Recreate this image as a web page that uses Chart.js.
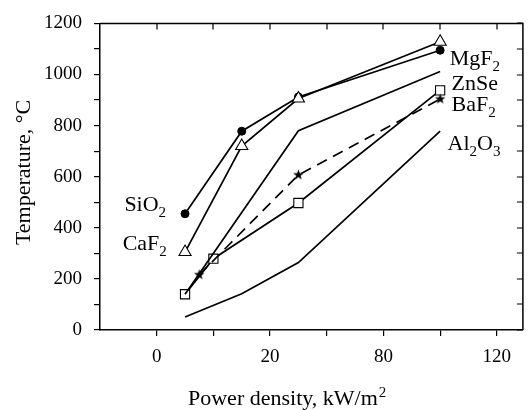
<!DOCTYPE html>
<html>
<head>
<meta charset="utf-8">
<script src="https://cdn.jsdelivr.net/npm/chart.js@4"></script>
<style>
  html, body { margin: 0; padding: 0; background: #fff; }
  #wrap { width: 531px; height: 410px; }
</style>
</head>
<body>
<div id="wrap"><canvas id="chart" width="531" height="410"></canvas></div>
<script>
// x positions are in axis units; the axis itself is labelled 0, 20, 80, 120
const xTickValues = [0, 10, 20, 30, 40, 50, 60];
const xTickLabels = { 0: '0', 20: '20', 40: '80', 60: '120' };
const yTickValues = [0, 100, 200, 300, 400, 500, 600, 700, 800, 900, 1000, 1100, 1200];

const xMain = [5, 15, 25, 50];
const sio2 = [455, 778, 912, 1095];
const caf2 = [305, 720, 906, 1128];
const al2o3 = [51, 142, 264, 778];

const xSquare = [5, 10, 25, 50];
const squareVals = [140, 279, 497, 938];

const xZnse = [5, 25, 50];
const znse = [140, 780, 1012];

const xStar = [7.5, 25, 50];
const starVals = [216, 607, 904];

// in-plot labels, anchored in data units
const plotLabels = [
    { text: 'SiO2', x: -5.7, y: 465 },
    { text: 'CaF2', x: -6.0, y: 312 },
    { text: 'MgF2', x: 51.7, y: 1036 },
    { text: 'ZnSe', x: 52.0, y: 940 },
    { text: 'BaF2', x: 52.0, y: 857 },
    { text: 'Al2O3', x: 51.3, y: 705 }
];

const FONT = '"Liberation Serif", "Times New Roman", serif';

function toPoints(xs, ys) {
    return xs.map((x, i) => ({ x: x, y: ys[i] }));
}

function makeStar(r) {
    const c = document.createElement('canvas');
    const s = Math.ceil(r * 2) + 2;
    c.width = s; c.height = s;
    const g = c.getContext('2d');
    g.fillStyle = '#000';
    g.beginPath();
    for (let i = 0; i < 10; i++) {
        const rad = i % 2 === 0 ? r : r * 0.42;
        const a = -Math.PI / 2 + i * Math.PI / 5;
        const px = s / 2 + rad * Math.cos(a);
        const py = s / 2 + rad * Math.sin(a);
        if (i === 0) g.moveTo(px, py); else g.lineTo(px, py);
    }
    g.closePath();
    g.fill();
    return c;
}

// digits become subscripts (SiO2, Al2O3 ...)
function drawChem(ctx, str, x, y, size) {
    let cx = x;
    str.match(/\d+|\D+/g).forEach(p => {
        const sub = /\d/.test(p);
        ctx.font = (sub ? Math.round(size * 0.7) : size) + 'px ' + FONT;
        ctx.fillText(p, cx, sub ? y + 6 : y);
        cx += ctx.measureText(p).width;
    });
}

const framePlugin = {
    id: 'frame',
    afterDraw(chart) {
        const ctx = chart.ctx;
        const a = chart.chartArea;
        const xs = chart.scales.x;
        const ys = chart.scales.y;
        ctx.save();
        ctx.strokeStyle = '#000';
        ctx.lineWidth = 1.5;
        // top and right frame with inward ticks
        ctx.beginPath();
        ctx.moveTo(a.left, a.top);
        ctx.lineTo(a.right, a.top);
        ctx.lineTo(a.right, a.bottom);
        ctx.stroke();
        ctx.lineWidth = 1.2;
        ctx.beginPath();
        xTickValues.forEach(v => {
            const px = Math.round(xs.getPixelForValue(v));
            ctx.moveTo(px, a.top);
            ctx.lineTo(px, a.top + 6);
        });
        yTickValues.forEach(v => {
            const py = Math.round(ys.getPixelForValue(v));
            ctx.moveTo(a.right, py);
            ctx.lineTo(a.right - 6, py);
        });
        ctx.stroke();

        // material labels
        ctx.fillStyle = '#000';
        ctx.textBaseline = 'alphabetic';
        ctx.textAlign = 'left';
        plotLabels.forEach(l => {
            drawChem(ctx, l.text, xs.getPixelForValue(l.x), ys.getPixelForValue(l.y), 22);
        });

        // x title with superscript
        const xt = 'Power density, kW/m';
        const tx = a.left + 88;
        const ty = chart.height - 5;
        ctx.font = '22px ' + FONT;
        ctx.fillText(xt, tx, ty);
        const w = ctx.measureText(xt).width;
        ctx.font = '15px ' + FONT;
        ctx.fillText('2', tx + w + 1, ty - 8);

        // y title
        ctx.font = '22px ' + FONT;
        ctx.translate(24, a.top + 149);
        ctx.rotate(-Math.PI / 2);
        ctx.textAlign = 'center';
        ctx.textBaseline = 'middle';
        ctx.fillText('Temperature, \u00B0C', 0, 0);
        ctx.restore();
    }
};

const lineBase = {
    borderColor: '#000',
    borderWidth: 1.7,
    tension: 0,
    fill: false,
    pointBorderColor: '#000'
};

new Chart(document.getElementById('chart').getContext('2d'), {
    type: 'line',
    data: {
        datasets: [
            Object.assign({}, lineBase, {
                label: 'Al2O3', data: toPoints(xMain, al2o3), pointRadius: 0
            }),
            Object.assign({}, lineBase, {
                label: 'ZnSe', data: toPoints(xZnse, znse), pointRadius: 0
            }),
            Object.assign({}, lineBase, {
                label: 'BaF2', data: toPoints(xStar, starVals), borderDash: [11, 7],
                pointStyle: makeStar(5.5), pointRadius: 5
            }),
            Object.assign({}, lineBase, {
                label: 'squares', data: toPoints(xSquare, squareVals),
                pointStyle: 'rect', pointRadius: 6.5, pointBackgroundColor: '#fff', pointBorderWidth: 1.1
            }),
            Object.assign({}, lineBase, {
                label: 'CaF2', data: toPoints(xMain, caf2),
                pointStyle: 'triangle', pointRadius: 7, pointBackgroundColor: '#fff', pointBorderWidth: 1.1
            }),
            Object.assign({}, lineBase, {
                label: 'SiO2', data: toPoints(xMain, sio2),
                pointStyle: 'circle', pointRadius: 4, pointBackgroundColor: '#000', pointBorderWidth: 1
            })
        ]
    },
    options: {
        responsive: false,
        animation: false,
        events: [],
        layout: { padding: { top: 15, right: 1, left: 0, bottom: 0 } },
        plugins: {
            legend: { display: false },
            tooltip: { enabled: false }
        },
        scales: {
            x: {
                type: 'linear',
                min: -10,
                max: 64.6,
                afterBuildTicks: scale => {
                    scale.ticks = xTickValues.map(v => ({ value: v }));
                },
                afterFit: scale => { scale.height = 80; },
                ticks: {
                    color: '#000',
                    font: { family: FONT, size: 19 },
                    padding: 10,
                    maxRotation: 0,
                    autoSkip: false,
                    callback: v => xTickLabels[v] !== undefined ? xTickLabels[v] : ''
                },
                grid: { drawOnChartArea: false, drawTicks: true, tickLength: 6, color: '#000', lineWidth: 1.2 },
                border: { display: true, color: '#000', width: 1.5 }
            },
            y: {
                min: 0,
                max: 1200,
                afterBuildTicks: scale => {
                    scale.ticks = yTickValues.map(v => ({ value: v }));
                },
                afterFit: scale => { scale.width = 100; },
                ticks: {
                    color: '#000',
                    font: { family: FONT, size: 19 },
                    padding: 12,
                    autoSkip: false,
                    callback: v => v % 200 === 0 ? String(v) : ''
                },
                grid: { drawOnChartArea: false, drawTicks: true, tickLength: 6, color: '#000', lineWidth: 1.2 },
                border: { display: true, color: '#000', width: 1.5 }
            }
        }
    },
    plugins: [framePlugin]
});
</script>
</body>
</html>
